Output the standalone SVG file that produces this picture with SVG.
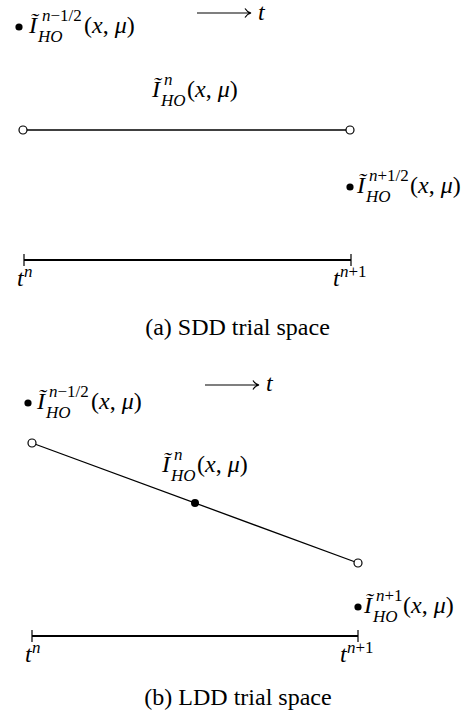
<svg xmlns="http://www.w3.org/2000/svg" width="469" height="719" viewBox="0 0 469 719">
<style>
text{font-family:"Liberation Serif","Times New Roman",serif;font-size:24px;fill:#000}
.it{font-style:italic}
.s{font-size:17px}
.ln{stroke:#000;stroke-width:1.3;fill:none}
.ax{stroke:#000;stroke-width:2;fill:none}
.tk{stroke:#000;stroke-width:1.2;fill:none}
.open{fill:#fff;stroke:#000;stroke-width:1.2}
.dot{fill:#000}
</style>
<rect width="469" height="719" fill="#fff"/>
<g id="connectors">
<line class="ln" x1="23" y1="130" x2="350" y2="130"/>
<line class="ln" x1="32" y1="443" x2="358" y2="563"/>
<path class="tk" d="M197 13H250M245 8.5Q247 12 251 13Q247 14 245 17.5"/>
<path class="tk" d="M205 385H258M253 380.5Q255 384 259 385Q255 386 253 389.5"/>
</g>
<g id="a-time-arrow"><text x="258" y="20" class="it">t</text></g>
<g id="a-left-point">
<circle class="dot" cx="19" cy="27" r="3.6"/>
<text y="33"><tspan x="29" class="it">Ĩ</tspan><tspan x="42" y="21" class="s it">n</tspan><tspan class="s">−1/2</tspan><tspan x="38" y="42" class="s it">HO</tspan><tspan x="84" y="33">(</tspan><tspan class="it">x</tspan>, <tspan class="it">μ</tspan>)</text>
</g>
<g id="a-mid-label">
<text y="97"><tspan x="152" class="it">Ĩ</tspan><tspan x="164" y="85" class="s it">n</tspan><tspan x="161" y="106" class="s it">HO</tspan><tspan x="187" y="97">(</tspan><tspan class="it">x</tspan>, <tspan class="it">μ</tspan>)</text>
</g>
<g id="a-left-open"><circle class="open" cx="23" cy="130" r="4"/></g>
<g id="a-right-open"><circle class="open" cx="350" cy="130" r="4"/></g>
<g id="a-right-point">
<circle class="dot" cx="350" cy="187" r="3.6"/>
<text y="193"><tspan x="357" class="it">Ĩ</tspan><tspan x="369" y="181" class="s it">n</tspan><tspan class="s">+1/2</tspan><tspan x="366" y="202" class="s it">HO</tspan><tspan x="410" y="193">(</tspan><tspan class="it">x</tspan>, <tspan class="it">μ</tspan>)</text>
</g>
<g id="a-axis">
<path class="ax" d="M24 260H351"/>
<path class="tk" d="M24 254V266M351 254V266"/>
<text y="286"><tspan x="17" class="it">t</tspan><tspan x="24" y="277" class="s it">n</tspan></text>
<text y="286"><tspan x="333" class="it">t</tspan><tspan x="340" y="277" class="s it">n</tspan><tspan class="s">+1</tspan></text>
</g>
<g id="a-caption"><text x="237.5" y="335" text-anchor="middle">(a) SDD trial space</text></g>

<g id="b-time-arrow"><text x="266" y="391" class="it">t</text></g>
<g id="b-left-point">
<circle class="dot" cx="28" cy="403" r="3.6"/>
<text y="409"><tspan x="37" class="it">Ĩ</tspan><tspan x="49" y="397" class="s it">n</tspan><tspan class="s">−1/2</tspan><tspan x="46" y="418" class="s it">HO</tspan><tspan x="91" y="409">(</tspan><tspan class="it">x</tspan>, <tspan class="it">μ</tspan>)</text>
</g>
<g id="b-left-open"><circle class="open" cx="32" cy="443" r="4"/></g>
<g id="b-mid-point"><circle class="dot" cx="195" cy="503" r="4"/></g>
<g id="b-mid-label">
<text y="472"><tspan x="162" class="it">Ĩ</tspan><tspan x="174" y="460" class="s it">n</tspan><tspan x="171" y="481" class="s it">HO</tspan><tspan x="197" y="472">(</tspan><tspan class="it">x</tspan>, <tspan class="it">μ</tspan>)</text>
</g>
<g id="b-right-open"><circle class="open" cx="358" cy="563" r="4"/></g>
<g id="b-right-point">
<circle class="dot" cx="358" cy="607" r="3.6"/>
<text y="613"><tspan x="364" class="it">Ĩ</tspan><tspan x="376" y="601" class="s it">n</tspan><tspan class="s">+1</tspan><tspan x="373" y="622" class="s it">HO</tspan><tspan x="403" y="613">(</tspan><tspan class="it">x</tspan>, <tspan class="it">μ</tspan>)</text>
</g>
<g id="b-axis">
<path class="ax" d="M32 636H358"/>
<path class="tk" d="M32 630V642M358 630V642"/>
<text y="662"><tspan x="25" class="it">t</tspan><tspan x="32" y="653" class="s it">n</tspan></text>
<text y="662"><tspan x="340" class="it">t</tspan><tspan x="347" y="653" class="s it">n</tspan><tspan class="s">+1</tspan></text>
</g>
<g id="b-caption"><text x="238" y="705" text-anchor="middle">(b) LDD trial space</text></g>
</svg>
